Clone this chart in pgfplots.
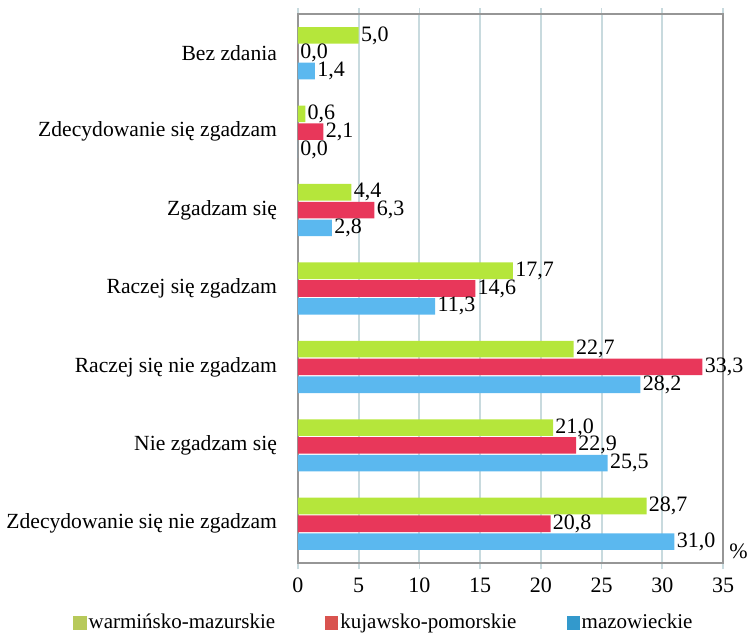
\documentclass[border=0pt]{standalone}
\usepackage{pgfplots}
\pgfplotsset{compat=1.18}
\usepackage{fontspec}
\setmainfont{Liberation Serif}

\definecolor{barg}{RGB}{181,230,59}
\definecolor{barr}{RGB}{232,55,90}
\definecolor{barb}{RGB}{91,184,239}
\definecolor{legg}{RGB}{183,201,90}
\definecolor{legr}{RGB}{217,83,79}
\definecolor{legb}{RGB}{51,153,204}
\definecolor{framegray}{RGB}{150,150,150}
\definecolor{gridc}{RGB}{200,218,222}

\begin{document}
\begin{tikzpicture}
\begin{axis}[
  name=ax,
  at={(0,0)}, anchor=south west,
  scale only axis,
  width=212.5pt, height=274.5pt,
  xbar=0.6pt,
  bar width=8.3pt,
  xmin=0, xmax=35,
  ymin=-0.5, ymax=6.5,
  xtick={0,5,...,35},
  ytick={0,...,6},
  yticklabels={Zdecydowanie się nie zgadzam, Nie zgadzam się, Raczej się nie zgadzam, Raczej się zgadzam, Zgadzam się, Zdecydowanie się zgadzam, Bez zdania},
  y tick label style={xshift=-4pt, font=\fontsize{10.8}{13}\selectfont},
  ytick style={draw=none},
  extra y ticks={-0.5,0.5,...,6.5},
  extra y tick labels={},
  extra y tick style={tick align=outside, major tick length=4pt, tick style={draw=gridc, line width=0.8pt}, grid=none},
  xtick style={draw=gridc, line width=0.8pt},
  tick align=outside,
  major tick length=3pt,
  xmajorgrids,
  major grid style={gridc, line width=1pt},
  axis line style={framegray, line width=1pt},
  x tick label style={font=\fontsize{11}{13}\selectfont, yshift=-1pt},
  /pgf/number format/assume math mode=true,
  nodes near coords,
  nodes near coords style={font=\fontsize{11}{13}\selectfont, black, inner sep=1pt,
    /pgf/number format/.cd, fixed, fixed zerofill, precision=1, use comma},
  legend style={draw=none, fill=none, at={(-115.5pt,-30pt)}, anchor=west,
    font=\fontsize{10.5}{12}\selectfont, column sep=0pt,
    nodes={inner xsep=1pt, inner ysep=1pt},
    /tikz/every even column/.append style={column sep=24pt}},
  legend columns=3,
  reverse legend,
  clip=false,
]
\addplot[fill=barb, draw=none,
  legend image code/.code={\fill[legb] (0pt,-3.3pt) rectangle (6.6pt,3.3pt);}]
  coordinates {(31.0,0) (25.5,1) (28.2,2) (11.3,3) (2.8,4) (0.0,5) (1.4,6)};
\addlegendentry{mazowieckie}
\addplot[fill=barr, draw=none,
  legend image code/.code={\fill[legr] (0pt,-3.3pt) rectangle (6.6pt,3.3pt);}]
  coordinates {(20.8,0) (22.9,1) (33.3,2) (14.6,3) (6.3,4) (2.1,5) (0.0,6)};
\addlegendentry{kujawsko-pomorskie}
\addplot[fill=barg, draw=none,
  legend image code/.code={\fill[legg] (0pt,-3.3pt) rectangle (6.6pt,3.3pt);}]
  coordinates {(28.7,0) (21.0,1) (22.7,2) (17.7,3) (4.4,4) (0.6,5) (5.0,6)};
\addlegendentry{warmińsko-mazurskie}
\node[anchor=south west, font=\fontsize{11}{13}\selectfont, inner sep=0pt] at ([xshift=3pt,yshift=2pt]rel axis cs:1,0) {\%};
\end{axis}
\pgfresetboundingbox
\path (-149pt,-34.5pt) rectangle (225pt,281.5pt);
\end{tikzpicture}
\end{document}
